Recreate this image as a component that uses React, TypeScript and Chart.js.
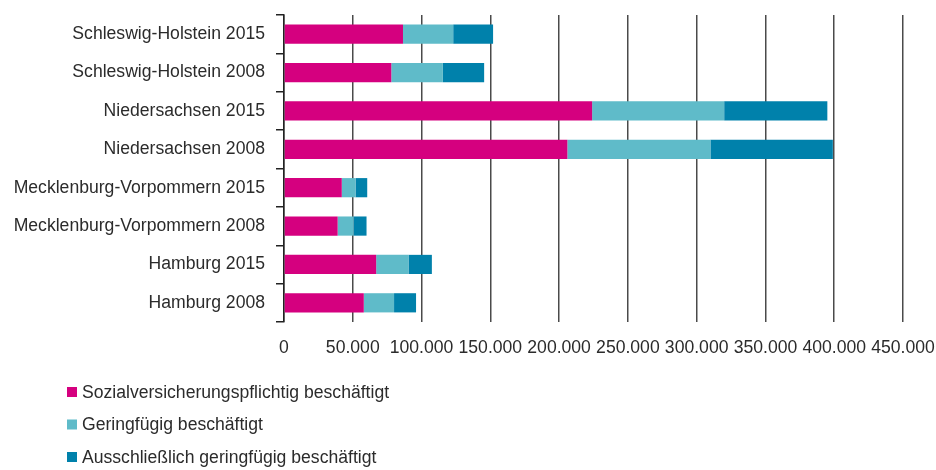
import React, { useEffect, useRef } from "react";
import { Chart, registerables } from "chart.js";

Chart.register(...registerables);

const categories = [
  "Schleswig-Holstein 2015",
  "Schleswig-Holstein 2008",
  "Niedersachsen 2015",
  "Niedersachsen 2008",
  "Mecklenburg-Vorpommern 2015",
  "Mecklenburg-Vorpommern 2008",
  "Hamburg 2015",
  "Hamburg 2008",
];

const seriesLabels = [
  "Sozialversicherungspflichtig beschäftigt",
  "Geringfügig beschäftigt",
  "Ausschließlich geringfügig beschäftigt",
];

const sozialversicherungspflichtig = [86500, 78000, 224000, 206000, 42000, 39000, 67000, 58000];
const geringfuegig = [36500, 37500, 96000, 104000, 10000, 11500, 23500, 22000];
const ausschliesslichGeringfuegig = [29000, 30000, 75000, 89000, 8500, 9500, 17000, 16000];

const xTickMax = 450000;
const xTickStep = 50000;

const COLORS = ["#d5007f", "#5fbbc9", "#0081ab"];
const FONT = "'Liberation Sans', Arial, sans-serif";
const FONT_SIZE = 17.6;
const TEXT = "#2b2b2b";
const GRID = "#4a4a4a";

const formatDE = (v: number) =>
  String(Math.round(v)).replace(/\B(?=(\d{3})+(?!\d))/g, ".");

const verticalLegend = {
  id: "verticalLegend",
  afterDraw(chart: any) {
    const ctx = chart.ctx;
    ctx.save();
    ctx.font = `${FONT_SIZE}px ${FONT}`;
    ctx.textBaseline = "middle";
    ctx.textAlign = "left";
    chart.data.datasets.forEach((ds: any, i: number) => {
      const y = 392 + i * 32.5;
      ctx.fillStyle = ds.backgroundColor;
      ctx.fillRect(67, y - 5, 10, 10);
      ctx.fillStyle = TEXT;
      ctx.fillText(ds.label, 82, y + 1);
    });
    ctx.restore();
  },
};

export default function App() {
  const ref = useRef<HTMLCanvasElement | null>(null);

  useEffect(() => {
    document.body.style.margin = "0";
    if (!ref.current) return;
    const seriesValues = [sozialversicherungspflichtig, geringfuegig, ausschliesslichGeringfuegig];
    const chart = new Chart(ref.current, {
      type: "bar",
      data: {
        labels: categories,
        datasets: seriesLabels.map((label, i) => ({
          label,
          data: seriesValues[i],
          backgroundColor: COLORS[i],
          borderWidth: 0,
          barPercentage: 0.5,
          categoryPercentage: 1,
        })),
      },
      plugins: [verticalLegend],
      options: {
        indexAxis: "y",
        animation: false,
        responsive: false,
        maintainAspectRatio: false,
        layout: { padding: { top: 15, right: 33, bottom: 110, left: 0 } },
        plugins: {
          legend: { display: false },
          tooltip: { enabled: false },
        },
        scales: {
          x: {
            stacked: true,
            min: 0,
            max: xTickMax,
            ticks: {
              stepSize: xTickStep,
              color: TEXT,
              font: { family: FONT, size: FONT_SIZE },
              padding: 16,
              maxRotation: 0,
              autoSkip: false,
              callback: (v: any) => formatDE(Number(v)),
            },
            grid: {
              color: GRID,
              lineWidth: 1.5,
              drawTicks: false,
            },
            border: { display: false },
            afterFit: (s: any) => {
              s.height = 38;
              s.paddingLeft = 0;
              s.paddingRight = 0;
            },
          },
          y: {
            stacked: true,
            ticks: {
              color: TEXT,
              font: { family: FONT, size: FONT_SIZE },
              padding: 11,
              autoSkip: false,
            },
            grid: {
              drawOnChartArea: false,
              drawTicks: true,
              tickLength: 8,
              color: "#222",
              lineWidth: 1.5,
            },
            border: { display: true, color: "#222", width: 1.5 },
            afterFit: (s: any) => {
              s.width = 284;
              s.paddingTop = 0;
              s.paddingBottom = 0;
            },
          },
        },
      },
    });
    return () => chart.destroy();
  }, []);

  return <canvas ref={ref} width={936} height={470} style={{ display: "block" }} />;
}
